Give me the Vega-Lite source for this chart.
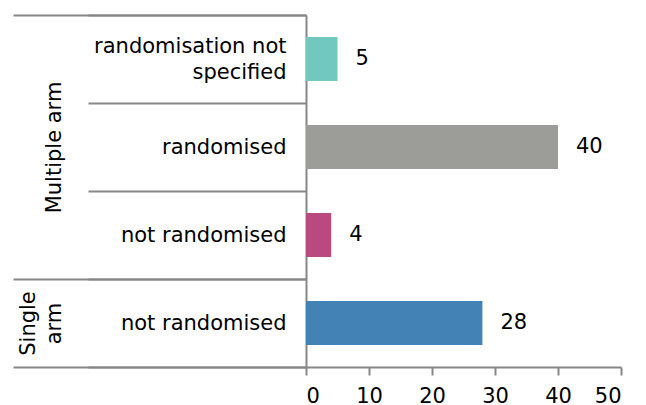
{
  "$schema": "https://vega.github.io/schema/vega-lite/v6.json",
  "width": 315,
  "height": 352,
  "autosize": {"type": "none"},
  "padding": {"left": 306, "top": 15, "right": 25, "bottom": 38},
  "config": {
    "view": {"stroke": null},
    "font": "DejaVu Sans",
    "axis": {"labelFont": "DejaVu Sans", "labelColor": "#000000", "labelFontSize": 21}
  },
  "data": {
    "values": [
      {"cat": "Multiple arm|randomisation not specified", "group": "Multiple arm", "sub": "randomisation not specified", "n": 5},
      {"cat": "Multiple arm|randomised", "group": "Multiple arm", "sub": "randomised", "n": 40},
      {"cat": "Multiple arm|not randomised", "group": "Multiple arm", "sub": "not randomised", "n": 4},
      {"cat": "Single arm|not randomised", "group": "Single arm", "sub": "not randomised", "n": 28}
    ]
  },
  "encoding": {
    "y": {
      "field": "cat",
      "type": "nominal",
      "sort": null,
      "scale": {"paddingInner": 0, "paddingOuter": 0}
    },
    "x": {
      "field": "n",
      "type": "quantitative",
      "scale": {"domain": [0, 50], "nice": false},
      "axis": {
        "title": null,
        "values": [0, 10, 20, 30, 40, 50],
        "grid": false,
        "domain": true,
        "domainColor": "#878787",
        "domainWidth": 2,
        "ticks": true,
        "tickSize": 8,
        "tickColor": "#878787",
        "tickWidth": 2,
        "labelPadding": 10,
        "labelFontSize": 21
      }
    }
  },
  "layer": [
    {
      "mark": {"type": "bar", "height": {"band": 0.5}},
      "encoding": {
        "color": {
          "field": "cat",
          "type": "nominal",
          "legend": null,
          "scale": {
            "domain": ["Multiple arm|randomisation not specified", "Multiple arm|randomised", "Multiple arm|not randomised", "Single arm|not randomised"],
            "range": ["#70C8BE", "#9C9D99", "#B84A80", "#4282B4"]
          }
        },
        "y": {
          "field": "cat",
          "type": "nominal",
          "sort": null,
          "axis": {
            "orient": "left",
            "title": null,
            "domain": true,
            "domainColor": "#878787",
            "domainWidth": 2,
            "ticks": true,
            "tickBand": "extent",
            "tickSize": 218,
            "tickColor": "#878787",
            "tickWidth": 2,
            "labelPadding": -198,
            "labelAlign": "right",
            "labelBaseline": "middle",
            "labelLineHeight": 26,
            "labelLimit": 500,
            "labelOffset": {"condition": {"test": "datum.value == 'Multiple arm|randomisation not specified'", "value": -13}, "value": 0},
            "labelExpr": "split(datum.value, '|')[1] == 'randomisation not specified' ? ['randomisation not', 'specified'] : split(datum.value, '|')[1]"
          }
        }
      }
    },
    {
      "mark": {"type": "text", "align": "left", "baseline": "middle", "dx": 18, "fontSize": 21, "font": "DejaVu Sans", "color": "#000000"},
      "encoding": {
        "text": {"field": "n", "type": "quantitative"},
        "y": {
          "field": "cat",
          "type": "nominal",
          "sort": null,
          "axis": {
            "orient": "left",
            "title": null,
            "domain": false,
            "ticks": true,
            "tickBand": "extent",
            "tickSize": 293,
            "tickColor": "#878787",
            "tickWidth": 2,
            "tickOpacity": {"condition": {"test": "datum.extra || datum.value == 'Multiple arm|not randomised' || datum.value == 'Single arm|not randomised'", "value": 1}, "value": 0},
            "labelPadding": {"condition": {"test": "datum.value == 'Single arm|not randomised'", "value": -25}, "value": -51},
            "labelAngle": -90,
            "labelAlign": "center",
            "labelBaseline": "bottom",
            "labelLineHeight": 26,
            "labelLimit": 500,
            "labelExpr": "datum.value == 'Multiple arm|randomised' ? 'Multiple arm' : (datum.value == 'Single arm|not randomised' ? ['Single', 'arm'] : '')"
          }
        }
      }
    }
  ],
  "resolve": {"axis": {"y": "independent"}}
}
